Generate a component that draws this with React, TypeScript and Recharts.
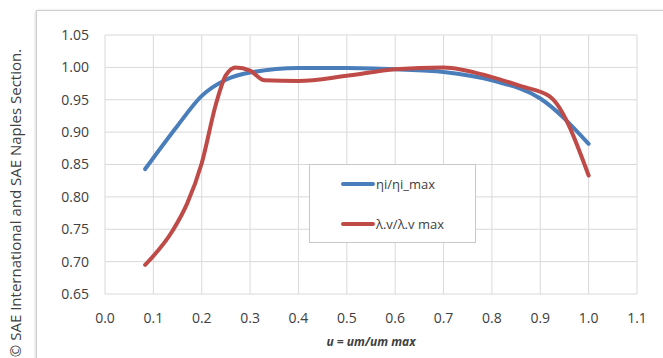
import { LineChart, Line, XAxis, YAxis, CartesianGrid, Legend, Label } from 'recharts';

// values
const etaU = [0.083, 0.15, 0.2, 0.25, 0.3, 0.4, 0.5, 0.6, 0.7, 0.8, 0.9, 1.0];
const etaV = [0.843, 0.91, 0.956, 0.981, 0.992, 0.999, 0.999, 0.997, 0.993, 0.98, 0.952, 0.882];

const lambdaU = [0.083, 0.14, 0.17, 0.2, 0.23, 0.25, 0.27, 0.3, 0.33, 0.4, 0.5, 0.6, 0.7, 0.8, 0.86, 0.92, 1.0];
const lambdaV = [0.695, 0.748, 0.79, 0.852, 0.945, 0.988, 1.0, 0.995, 0.98, 0.979, 0.987, 0.997, 1.0, 0.985, 0.971, 0.955, 0.833];

const xTicks = [0, 0.1, 0.2, 0.3, 0.4, 0.5, 0.6, 0.7, 0.8, 0.9, 1.0, 1.1];
const yTicks = [0.65, 0.7, 0.75, 0.8, 0.85, 0.9, 0.95, 1.0, 1.05];

const etaData = etaU.map((u, i) => ({ u, v: etaV[i] }));
const lambdaData = lambdaU.map((u, i) => ({ u, v: lambdaV[i] }));

const BLUE = '#4a7ebb';
const RED = '#be4b48';
const FONT = '"Open Sans", sans-serif';

function LegendBox({ payload }: any) {
  return (
    <div
      style={{
        position: 'relative',
        width: 167,
        height: 79,
        border: '1px solid #c8c8c8',
        background: '#fff',
        fontFamily: FONT,
        fontSize: 13,
        color: '#404040',
        boxSizing: 'border-box',
      }}
    >
      {(payload || []).map((p: any, i: number) => (
        <div
          key={p.value}
          style={{ position: 'absolute', left: 31, top: 9 + i * 40, height: 20, display: 'flex', alignItems: 'center' }}
        >
          <svg width={35} height={8}>
            <line x1={2} y1={4} x2={32} y2={4} stroke={p.color} strokeWidth={4} strokeLinecap="round" />
          </svg>
          <span style={{ lineHeight: '20px' }}>{p.value}</span>
        </div>
      ))}
    </div>
  );
}

export default function App() {
  return (
    <div style={{ position: 'fixed', left: 0, top: 0, width: 663, height: 358, background: '#fff', overflow: 'hidden' }}>
      <div
        style={{
          position: 'absolute',
          left: 15,
          top: 203,
          transform: 'translate(-50%, -50%) rotate(-90deg)',
          whiteSpace: 'nowrap',
          fontFamily: FONT,
          fontSize: 15,
          color: '#404040',
        }}
      >
        © SAE International and SAE Naples Section.
      </div>
      <div
        style={{
          position: 'absolute',
          left: 36,
          top: 10,
          width: 640,
          height: 360,
          border: '1px solid #cfcfcf',
          boxShadow: '0 1px 3px rgba(0,0,0,0.25)',
          background: '#fff',
        }}
      >
        <LineChart width={627} height={348} margin={{ top: 24, right: 27, left: 0, bottom: 25 }}>
          <CartesianGrid stroke="#d9d9d9" strokeWidth={1} />
          <XAxis
            type="number"
            dataKey="u"
            domain={[0, 1.1]}
            ticks={xTicks}
            tickFormatter={(v: number) => v.toFixed(1)}
            axisLine={false}
            tickLine={false}
            tickSize={6}
            tickMargin={13}
            height={40}
            tick={{ fill: '#404040', fontSize: 14, fontFamily: FONT }}
            allowDuplicatedCategory={false}
          >
            <Label
              value="u = um/um max"
              position="bottom"
              offset={3}
              style={{ fill: '#404040', fontSize: 12, fontWeight: 'bold', fontStyle: 'italic', fontFamily: FONT }}
            />
          </XAxis>
          <YAxis
            type="number"
            domain={[0.65, 1.05]}
            ticks={yTicks}
            tickFormatter={(v: number) => v.toFixed(2)}
            axisLine={false}
            tickLine={false}
            tickSize={6}
            tickMargin={10}
            width={68}
            tick={{ fill: '#404040', fontSize: 14, fontFamily: FONT }}
          />
          <Legend
            layout="horizontal"
            verticalAlign="middle"
            align="center"
            content={<LegendBox />}
            wrapperStyle={{ position: 'absolute', left: 272, top: 153, width: 167, height: 79 }}
          />
          <Line
            data={etaData}
            dataKey="v"
            name="ηi/ηi_max"
            type="monotone"
            stroke={BLUE}
            strokeWidth={4}
            strokeLinecap="round"
            dot={false}
            activeDot={false}
            isAnimationActive={false}
          />
          <Line
            data={lambdaData}
            dataKey="v"
            name="λ.v/λ.v max"
            type="monotone"
            stroke={RED}
            strokeWidth={4}
            strokeLinecap="round"
            dot={false}
            activeDot={false}
            isAnimationActive={false}
          />
        </LineChart>
      </div>
    </div>
  );
}
